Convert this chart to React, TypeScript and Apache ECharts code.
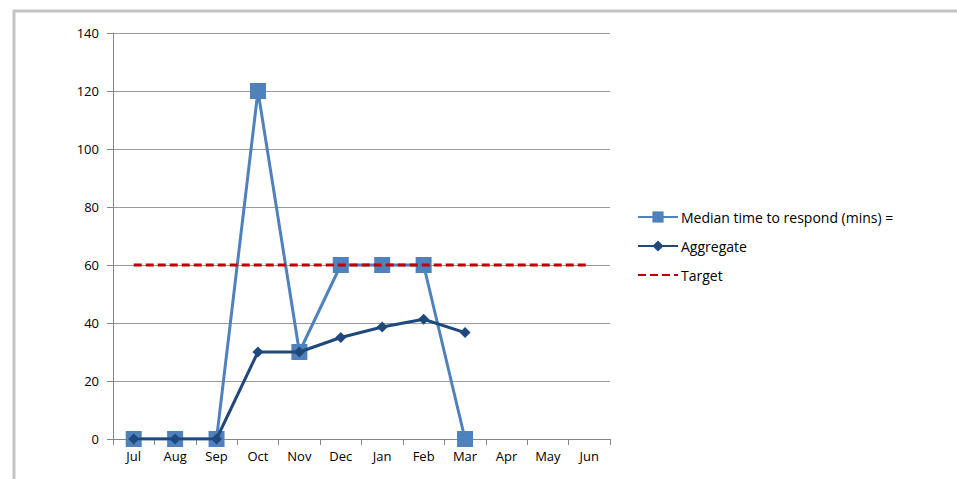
import React, { useEffect, useRef } from "react";
import * as echarts from "echarts";

// Monthly response-time figures (minutes)
const months = ["Jul", "Aug", "Sep", "Oct", "Nov", "Dec", "Jan", "Feb", "Mar", "Apr", "May", "Jun"];
const medianValues: (number | null)[] = [0, 0, 0, 120, 30, 60, 60, 60, 0, null, null, null];
const aggregateValues: (number | null)[] = [0, 0, 0, 30, 30, 35, 38.6, 41.3, 36.7, null, null, null];
const targetValues: number[] = [60, 60, 60, 60, 60, 60, 60, 60, 60, 60, 60, 60];

const seriesNames = ["Median time to respond (mins) =", "Aggregate", "Target"];

const FONT = "'Open Sans', 'Liberation Sans', sans-serif";

export default function App() {
  const ref = useRef<HTMLDivElement>(null);

  useEffect(() => {
    document.body.style.margin = "0";
    if (!ref.current) return;
    const chart = echarts.init(ref.current, undefined, { renderer: "svg" });
    chart.setOption({
      animation: false,
      backgroundColor: "#ffffff",
      textStyle: { fontFamily: FONT },
      grid: { left: 113, right: 347, top: 33, bottom: 40 },
      graphic: [
        {
          type: "polyline",
          shape: { points: [[14, 479], [14, 11], [957, 11]] },
          style: { stroke: "#c4c4c4", lineWidth: 3, fill: "none" },
          silent: true,
        },
      ],
      legend: {
        orient: "vertical",
        left: 637,
        top: 210,
        padding: 0,
        itemWidth: 40,
        itemHeight: 14,
        itemGap: 15,
        textStyle: { fontFamily: FONT, fontSize: 14, color: "#000000", padding: [0, 0, 0, -2] },
        data: [
          { name: seriesNames[0] },
          { name: seriesNames[1] },
          // dashed line only, no marker
          { name: seriesNames[2], itemStyle: { opacity: 0 } },
        ],
      },
      xAxis: {
        type: "category",
        data: months,
        boundaryGap: true,
        axisLine: { lineStyle: { color: "#868686", width: 1 } },
        axisTick: { show: true, length: 6, lineStyle: { color: "#868686" } },
        axisLabel: { color: "#000000", fontSize: 13, fontFamily: FONT, margin: 10 },
      },
      yAxis: {
        type: "value",
        min: 0,
        max: 140,
        interval: 20,
        axisLine: { show: true, lineStyle: { color: "#868686", width: 1 } },
        axisTick: { show: true, length: 6, lineStyle: { color: "#868686" } },
        axisLabel: { color: "#000000", fontSize: 13, fontFamily: FONT, margin: 14 },
        splitLine: { show: true, lineStyle: { color: "#9a9a9a", width: 1 } },
      },
      series: [
        {
          name: seriesNames[0],
          type: "line",
          data: medianValues,
          symbol: "rect",
          symbolSize: 16,
          lineStyle: { color: "#4f81bd", width: 3 },
          itemStyle: { color: "#4f81bd" },
          z: 2,
        },
        {
          name: seriesNames[1],
          type: "line",
          data: aggregateValues,
          symbol: "diamond",
          symbolSize: 11,
          lineStyle: { color: "#1f497d", width: 3 },
          itemStyle: { color: "#1f497d" },
          z: 3,
        },
        {
          name: seriesNames[2],
          type: "line",
          data: targetValues,
          symbol: "none",
          lineStyle: { color: "#c00000", width: 3, type: [8, 4] },
          itemStyle: { color: "#c00000" },
          z: 4,
        },
      ],
    });
    return () => chart.dispose();
  }, []);

  return <div ref={ref} style={{ width: 957, height: 479 }} />;
}
